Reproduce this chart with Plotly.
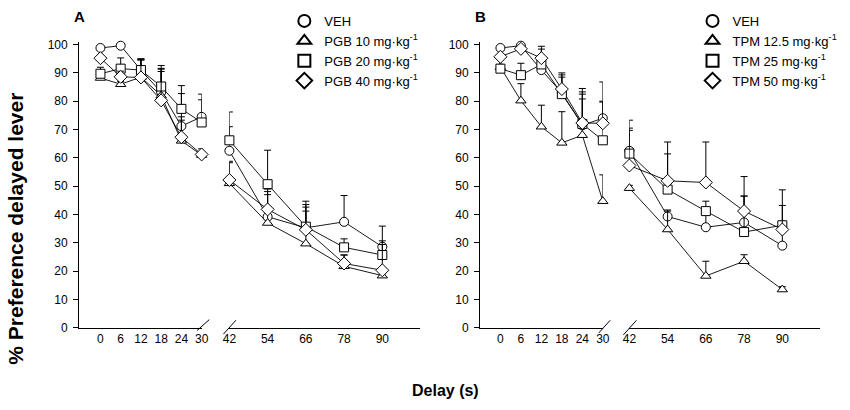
import plotly.graph_objects as go

W, H = 850, 410

# ---------------- data ----------------
delays_short = [0, 6, 12, 18, 24, 30]
delays_long = [42, 54, 66, 78, 90]
y_tick_vals = list(range(0, 101, 10))
x_short_ticks = [0, 6, 12, 18, 24]
x_long_ticks = [54, 66, 78, 90]

names_a = ["VEH", "PGB 10 mg·kg<sup>-1</sup>", "PGB 20 mg·kg<sup>-1</sup>", "PGB 40 mg·kg<sup>-1</sup>"]
names_b = ["VEH", "TPM 12.5 mg·kg<sup>-1</sup>", "TPM 25 mg·kg<sup>-1</sup>", "TPM 50 mg·kg<sup>-1</sup>"]
symbols = ["circle", "triangle-up", "square", "diamond"]

# Panel A (means, upper SEM)
a_veh = [98.8, 99.6, 91.0, 83.2, 71.2, 74.5, 62.5, 39.2, 35.3, 37.4, 28.6]
a_pgb10 = [88.2, 86.0, 88.5, 82.0, 66.0, 61.0, 51.0, 37.0, 29.7, 21.7, 18.4]
a_pgb20 = [89.7, 91.5, 91.0, 85.2, 77.3, 72.5, 66.2, 50.7, 35.7, 28.4, 25.7]
a_pgb40 = [95.2, 88.6, 88.4, 80.3, 67.3, 61.2, 52.2, 41.8, 34.6, 22.7, 20.3]
a_veh_err = [0.5, 0.5, 4.0, 9.4, 11.5, 8.0, 8.5, 8.9, 9.4, 9.3, 7.3]
a_pgb10_err = [0.5, 1.0, 6.0, 8.5, 8.5, 1.0, 7.3, 10.0, 11.5, 4.0, 1.5]
a_pgb20_err = [2.3, 3.8, 3.8, 6.4, 8.2, 8.0, 10.0, 12.0, 7.8, 3.0, 5.0]
a_pgb40_err = [1.0, 2.0, 6.4, 11.0, 6.0, 2.0, 6.6, 7.2, 8.0, 3.0, 9.1]

# Panel B (means, upper SEM)
b_veh = [98.8, 99.6, 91.0, 83.0, 71.5, 74.0, 62.5, 39.3, 35.5, 37.2, 29.0]
b_tpm12 = [92.0, 80.2, 71.0, 65.3, 68.0, 44.7, 49.3, 34.7, 18.3, 23.5, 13.5]
b_tpm25 = [91.5, 89.2, 93.0, 82.5, 72.0, 66.2, 61.5, 48.8, 41.2, 33.8, 36.2]
b_tpm50 = [95.7, 98.5, 95.2, 84.3, 72.3, 72.2, 57.3, 51.9, 51.3, 41.2, 34.7]
b_veh_err = [0.5, 0.5, 7.4, 7.0, 11.0, 6.0, 10.8, 2.3, 5.0, 9.3, 7.0]
b_tpm12_err = [1.0, 6.0, 7.6, 11.0, 12.8, 9.3, 1.0, 6.5, 5.2, 2.3, 1.0]
b_tpm25_err = [1.0, 4.2, 2.0, 6.0, 12.5, 20.6, 9.0, 12.6, 3.5, 12.7, 7.0]
b_tpm50_err = [1.0, 1.0, 4.2, 5.0, 11.0, 7.5, 12.4, 13.7, 14.3, 12.2, 14.0]

panel_a = [a_veh, a_pgb10, a_pgb20, a_pgb40]
panel_a_err = [a_veh_err, a_pgb10_err, a_pgb20_err, a_pgb40_err]
panel_b = [b_veh, b_tpm12, b_tpm25, b_tpm50]
panel_b_err = [b_veh_err, b_tpm12_err, b_tpm25_err, b_tpm50_err]

FONT = "Liberation Sans, Arial, sans-serif"
INK = "black"


def px(x):
    return x / W


def py(y):
    return 1 - y / H


fig = go.Figure()
n_short = len(delays_short)


def add_panel(values, errors, names, xs, xl, yax, legend):
    # connecting lines (broken at the axis break)
    for vals in values:
        for dx, xa, seg in ((delays_short, xs, vals[:n_short]), (delays_long, xl, vals[n_short:])):
            fig.add_trace(go.Scatter(
                x=dx, y=seg, xaxis=xa, yaxis=yax, mode="lines",
                line=dict(color=INK, width=0.9), showlegend=False,
                hoverinfo="skip", cliponaxis=False))
    # open symbols with upward error bars
    for i, (vals, errs, nm) in enumerate(zip(values, errors, names)):
        for k, (dx, xa, seg, e) in enumerate(((delays_short, xs, vals[:n_short], errs[:n_short]),
                                               (delays_long, xl, vals[n_short:], errs[n_short:]))):
            fig.add_trace(go.Scatter(
                x=dx, y=seg, xaxis=xa, yaxis=yax, mode="markers",
                name=nm, legendgroup=f"{legend}{i}", legend=legend,
                showlegend=(k == 0),
                marker=dict(symbol=symbols[i], size=9 if i != 3 else 10,
                            color="white", line=dict(color=INK, width=1)),
                error_y=dict(type="data", symmetric=False, array=e,
                             arrayminus=[0] * len(e), color=INK, thickness=1, width=3.5),
                cliponaxis=False))


add_panel(panel_a, panel_a_err, names_a, "x", "x2", "y", "legend")
add_panel(panel_b, panel_b_err, names_b, "x3", "x4", "y2", "legend2")

Y0 = 332.7
UNIT = 2.91
YMAX = 101
ydom = [py(Y0), py(Y0 - YMAX * UNIT)]

tickfont = dict(family=FONT, size=12, color=INK)

common_x = dict(showline=True, linecolor=INK, linewidth=1, showgrid=False, zeroline=False,
                ticks="", tickfont=tickfont, tickmode="array")
mark_x = dict(showline=False, showgrid=False, zeroline=False, showticklabels=False,
              ticks="inside", ticklen=4, tickwidth=1, tickcolor=INK, tickmode="array")
common_y = dict(showline=True, linecolor=INK, linewidth=1, showgrid=False, zeroline=False,
                ticks="outside", ticklen=5, tickwidth=1, tickcolor=INK,
                tickmode="array", tickvals=y_tick_vals, range=[0, YMAX], domain=ydom,
                ticklabelstandoff=3,
                tickfont=dict(family=FONT, size=12, color=INK))

dA1, rA1 = [px(73.3), px(197.9)], [-6.33, 30]
dA2, rA2 = [px(226.1), px(420)], [42, 101.85]
dB1, rB1 = [px(481), px(605.8)], [-5.96, 30]
dB2, rB2 = [px(632.8), px(826.7)], [42, 101.85]

legend_common = dict(xanchor="left", yanchor="top", bgcolor="rgba(0,0,0,0)",
                     font=dict(family=FONT, size=13, color=INK), itemsizing="constant",
                     tracegroupgap=0)

fig.update_layout(
    width=W, height=H, margin=dict(l=0, r=0, t=0, b=0),
    paper_bgcolor="white", plot_bgcolor="rgba(0,0,0,0)",
    font=dict(family=FONT, color=INK),
    xaxis=dict(common_x, domain=dA1, range=rA1, anchor="y", tickvals=delays_short),
    xaxis2=dict(common_x, domain=dA2, range=rA2, anchor="y", tickvals=delays_long),
    xaxis3=dict(common_x, domain=dB1, range=rB1, anchor="y2", tickvals=delays_short),
    xaxis4=dict(common_x, domain=dB2, range=rB2, anchor="y2", tickvals=delays_long),
    xaxis5=dict(mark_x, domain=dA1, range=rA1, anchor="y", overlaying="x", tickvals=x_short_ticks),
    xaxis6=dict(mark_x, domain=dA2, range=rA2, anchor="y", overlaying="x2", tickvals=x_long_ticks),
    xaxis7=dict(mark_x, domain=dB1, range=rB1, anchor="y2", overlaying="x3", tickvals=x_short_ticks),
    xaxis8=dict(mark_x, domain=dB2, range=rB2, anchor="y2", overlaying="x4", tickvals=x_long_ticks),
    yaxis=dict(common_y, anchor="x"),
    yaxis2=dict(common_y, anchor="x3"),
    legend=dict(legend_common, x=px(282), y=py(2)),
    legend2=dict(legend_common, x=px(697), y=py(2)),
    showlegend=True,
)

# axis-break slashes
slashes = [((193.3, 335.5), (205.7, 324.3)), ((220.0, 339.3), (232.7, 325.0)),
           ((601.7, 338.0), (613.3, 325.0)), ((626.7, 340.0), (640.0, 325.0))]
for (x0, y0), (x1, y1) in slashes:
    fig.add_shape(type="line", xref="paper", yref="paper",
                  x0=px(x0), y0=py(y0), x1=px(x1), y1=py(y1),
                  line=dict(color=INK, width=1))

annots = [
    dict(text="<b>A</b>", x=px(74), y=py(12.5), size=15),
    dict(text="<b>B</b>", x=px(481), y=py(12.5), size=15),
    dict(text="<b>Delay (s)</b>", x=px(446), y=py(397), size=16),
]
for a in annots:
    fig.add_annotation(text=a["text"], x=a["x"], y=a["y"], xref="paper", yref="paper",
                       showarrow=False, xanchor="center", yanchor="middle",
                       font=dict(family=FONT, size=a["size"], color=INK))
fig.add_annotation(text="<b>% Preference delayed lever</b>", x=px(9), y=py(231),
                   xref="paper", yref="paper", showarrow=False, textangle=-90,
                   xanchor="center", yanchor="middle",
                   font=dict(family=FONT, size=21, color=INK))

fig.write_html("out.html", config={"displayModeBar": False},
               post_script="document.body.style.margin='0';")
